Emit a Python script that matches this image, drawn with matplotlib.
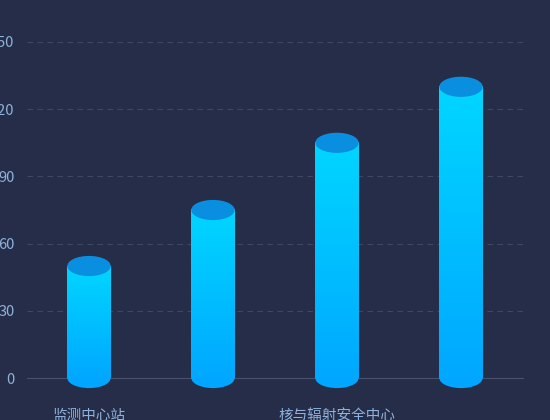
import matplotlib
matplotlib.use("Agg")
import matplotlib.pyplot as plt
import numpy as np
from matplotlib.patches import Ellipse
from matplotlib.colors import LinearSegmentedColormap

plt.rcParams['font.family'] = ['Noto Sans CJK SC', 'DejaVu Sans']

# data
categories = ["监测中心站", "", "核与辐射安全中心", ""]
values = [50, 75, 105, 130]
yticks = [0, 30, 60, 90, 120, 150]

bg = "#262d48"
text_col = "#8fb2dc"
grid_col = "#3e4764"

fig = plt.figure(figsize=(5.5, 4.2), dpi=100, facecolor=bg)
ax = fig.add_axes([27 / 550, 42 / 420, 496 / 550, 336 / 420])
ax.set_facecolor(bg)

bar_w = 0.35
ell_h = 9.0
cmap = LinearSegmentedColormap.from_list("cyl", ["#00a8ff", "#00d6ff"])
grad = np.linspace(0, 1, 256).reshape(-1, 1)

for i, v in enumerate(values):
    x0, x1 = i - bar_w / 2, i + bar_w / 2
    # bottom cap (hangs below the axis line)
    ax.add_patch(Ellipse((i, 0), bar_w, ell_h, facecolor="#00a6ff",
                         edgecolor="none", zorder=3, clip_on=False))
    # body with vertical gradient
    ax.imshow(grad, cmap=cmap, origin="lower", aspect="auto",
              extent=[x0, x1, 0, v], zorder=3.5)
    # top cap
    ax.add_patch(Ellipse((i, v), bar_w, ell_h, facecolor="#0a8fe0",
                         edgecolor="none", zorder=4))

ax.set_xlim(-0.5, len(values) - 0.5)
ax.set_ylim(0, 150)

ax.set_yticks(yticks)
ax.set_yticklabels([str(t) for t in yticks], color=text_col, fontsize=10.5)
ax.yaxis.grid(True, color=grid_col, linestyle=(0, (5, 4)), linewidth=0.8)
ax.set_axisbelow(True)
ax.tick_params(axis="y", length=0, pad=9)

ax.set_xticks(range(len(categories)))
ax.set_xticklabels(categories, color=text_col, fontsize=10.5)
ax.tick_params(axis="x", length=0, pad=22)

for s in ["top", "right", "left"]:
    ax.spines[s].set_visible(False)
ax.spines["bottom"].set_color("#48516e")
ax.spines["bottom"].set_linewidth(0.8)
ax.spines["bottom"].set_zorder(1)

fig.savefig("out.png", dpi=100, facecolor=bg)
